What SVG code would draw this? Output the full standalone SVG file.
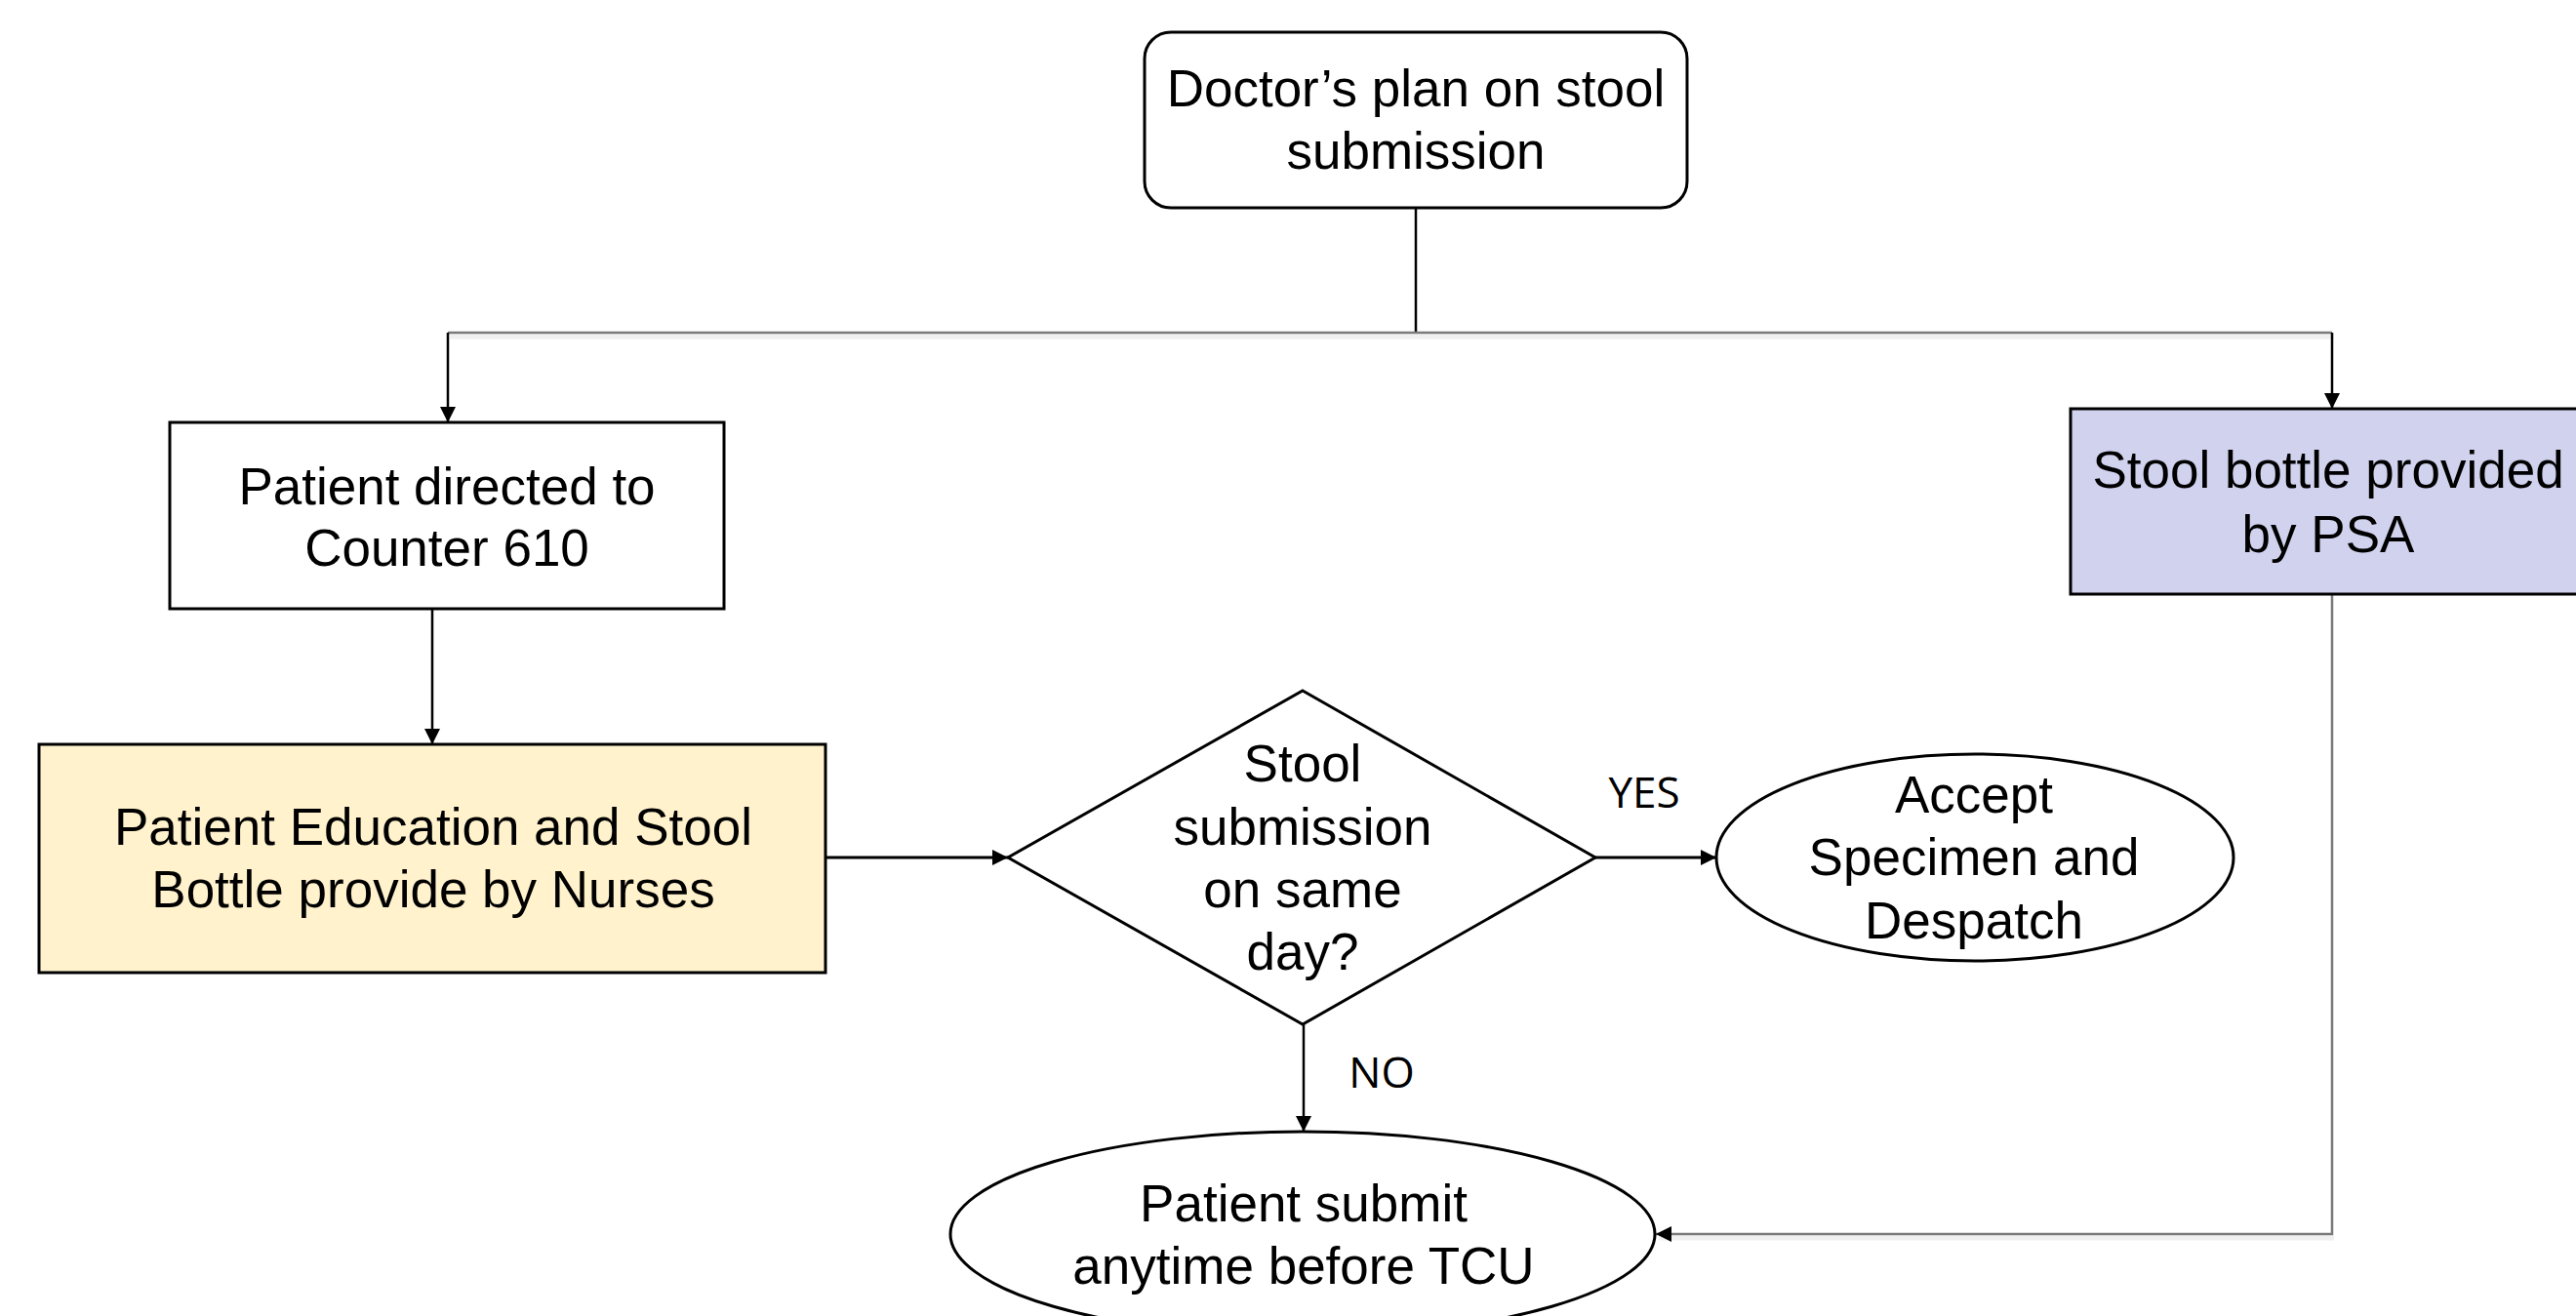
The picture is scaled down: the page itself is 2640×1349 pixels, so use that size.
<svg xmlns="http://www.w3.org/2000/svg" width="2640" height="1349" viewBox="0 0 2640 1349">
<style>
  .t { font-family: "Liberation Sans", Arial, sans-serif; font-size: 53px; fill: #000; text-anchor: middle; }
  .lbl { font-family: "Open Sans", "Noto Sans", sans-serif; font-size: 44px; fill: #000; }
  .box { stroke: #000; stroke-width: 3; }
  .blk { stroke: #000; stroke-width: 2.5; fill: none; }
  .gry { stroke: #7a7a7a; stroke-width: 2.5; fill: none; }
  .shd { stroke: #f0f0f0; stroke-width: 5; fill: none; }
</style>
<defs>
  <marker id="ah" markerUnits="userSpaceOnUse" markerWidth="17" markerHeight="17" refX="16" refY="8" orient="auto">
    <path d="M0,0 L16,8 L0,16 z" fill="#000"/>
  </marker>
</defs>
<rect width="2640" height="1349" fill="#fff"/>

<g id="connectors">
  <path class="shd" d="M461,345 H2392"/>
  <path class="shd" d="M1700,1269 H2392"/>
  <path class="blk" d="M1451,213 V341"/>
  <path class="gry" d="M459,341 H2390"/>
  <path class="blk" d="M459,341 V433" marker-end="url(#ah)"/>
  <path class="blk" d="M2390,341 V419" marker-end="url(#ah)"/>
  <path class="blk" d="M443,624 V763" marker-end="url(#ah)"/>
  <path class="blk" style="stroke-width:3" d="M846,879 H1033" marker-end="url(#ah)"/>
  <path class="blk" style="stroke-width:3" d="M1635,879 H1759" marker-end="url(#ah)"/>
  <path class="blk" d="M1336,1050 V1160" marker-end="url(#ah)"/>
  <path class="gry" d="M2390,609 V1265 H1697" marker-end="url(#ah)"/>
  <text class="lbl" x="1685" y="828" text-anchor="middle">YES</text>
  <text class="lbl" x="1416" y="1115" text-anchor="middle">NO</text>
</g>

<g id="doctor">
  <rect class="box" x="1173" y="33" width="556" height="180" rx="27" ry="27" fill="#fff"/>
  <text class="t" x="1451" y="109">Doctor’s plan on stool</text>
  <text class="t" x="1451" y="173">submission</text>
</g>

<g id="counter">
  <rect class="box" x="174" y="433" width="568" height="191" fill="#fff"/>
  <text class="t" x="458" y="517">Patient directed to</text>
  <text class="t" x="458" y="580">Counter 610</text>
</g>

<g id="psa">
  <rect class="box" x="2122" y="419" width="540" height="190" fill="#d0d2ee"/>
  <text class="t" x="2386" y="500">Stool bottle provided</text>
  <text class="t" x="2386" y="566">by PSA</text>
</g>

<g id="education">
  <rect class="box" x="40" y="763" width="806" height="234" fill="#fff2cc"/>
  <text class="t" x="444" y="866">Patient Education and Stool</text>
  <text class="t" x="444" y="930">Bottle provide by Nurses</text>
</g>

<g id="decision">
  <polygon class="box" points="1335,708 1635,879 1335,1050 1033,879" fill="#fff"/>
  <text class="t" x="1335" y="801">Stool</text>
  <text class="t" x="1335" y="866">submission</text>
  <text class="t" x="1335" y="930">on same</text>
  <text class="t" x="1335" y="994">day?</text>
</g>

<g id="accept">
  <ellipse class="box" cx="2024" cy="879" rx="265" ry="106" fill="#fff"/>
  <text class="t" x="2023" y="833">Accept</text>
  <text class="t" x="2023" y="897">Specimen and</text>
  <text class="t" x="2023" y="962">Despatch</text>
</g>

<g id="submit">
  <ellipse class="box" cx="1335" cy="1265" rx="361" ry="105" fill="#fff"/>
  <text class="t" x="1336" y="1252">Patient submit</text>
  <text class="t" x="1336" y="1316">anytime before TCU</text>
</g>
</svg>
